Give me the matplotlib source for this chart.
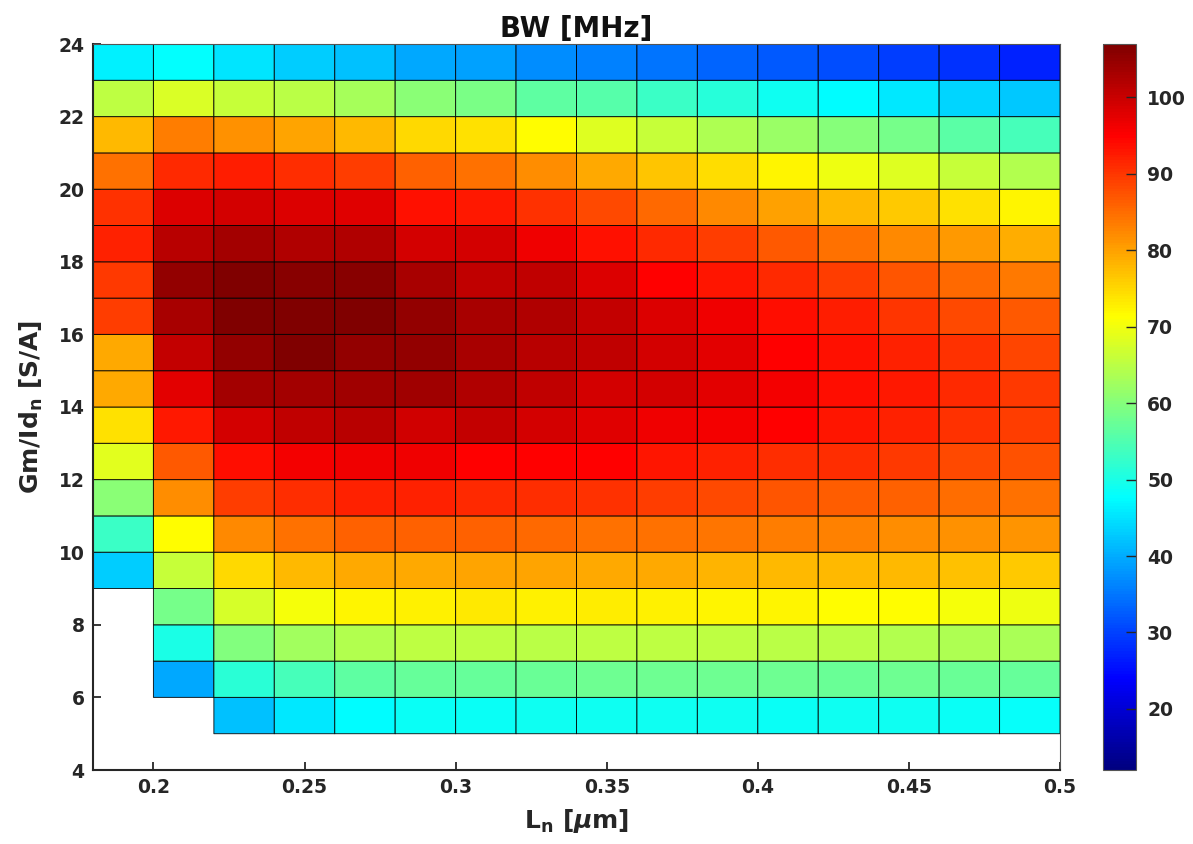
import numpy as np
import matplotlib.pyplot as plt
from matplotlib.colors import LinearSegmentedColormap
from matplotlib.ticker import FormatStrFormatter

nan = np.nan

# cell edges
L_n = [0.18, 0.20, 0.22, 0.24, 0.26, 0.28, 0.30, 0.32, 0.34,
       0.36, 0.38, 0.40, 0.42, 0.44, 0.46, 0.48, 0.50]
gm_id = [5, 6, 7, 8, 9, 10, 11, 12, 13, 14, 15, 16, 17, 18, 19, 20, 21, 22, 23, 24]

# BW [MHz], one list per Gm/Id row (top row first)
bw_23 = [46.5, 47.8, 45.3, 42.9, 41.7, 39.7, 38.8, 37.0, 35.8, 35.0, 33.4, 32.3, 31.0, 29.8, 28.6, 27.0]
bw_22 = [65.4, 67.8, 66.1, 64.9, 63.0, 60.6, 59.0, 56.4, 55.5, 53.0, 51.2, 49.0, 47.6, 45.7, 43.8, 42.5]
bw_21 = [77.8, 83.3, 81.4, 79.7, 78.0, 75.0, 74.3, 71.4, 68.2, 65.9, 63.7, 61.9, 60.0, 58.5, 56.1, 54.0]
bw_20 = [84.7, 91.2, 92.2, 90.7, 89.2, 86.2, 84.7, 82.1, 79.3, 76.9, 74.5, 72.3, 69.8, 68.2, 65.9, 64.0]
bw_19 = [90.4, 98.2, 99.1, 98.2, 97.9, 93.5, 92.8, 90.4, 88.3, 85.3, 82.5, 80.2, 78.0, 76.2, 74.3, 72.3]
bw_18 = [92.0, 101.7, 103.6, 102.5, 102.5, 99.1, 99.1, 96.5, 93.5, 91.2, 89.2, 86.9, 84.7, 82.5, 80.7, 78.8]
bw_17 = [89.9, 104.9, 107.0, 106.2, 106.2, 103.0, 101.0, 101.0, 98.2, 95.1, 93.1, 91.2, 89.2, 87.2, 85.3, 83.8]
bw_16 = [89.2, 103.2, 107.0, 107.0, 107.0, 104.9, 103.0, 102.5, 100.6, 98.2, 96.5, 94.0, 92.2, 90.2, 88.3, 86.9]
bw_15 = [79.3, 100.6, 104.9, 107.0, 104.9, 104.9, 103.0, 101.7, 101.0, 99.1, 97.5, 95.1, 93.6, 92.0, 90.4, 88.8]
bw_14 = [79.3, 97.5, 103.4, 103.4, 103.9, 103.9, 102.5, 101.0, 99.1, 99.1, 97.5, 96.0, 94.0, 92.8, 91.2, 89.9]
bw_13 = [74.3, 92.8, 99.1, 101.0, 101.7, 99.5, 100.6, 99.1, 97.9, 96.5, 96.0, 95.1, 93.1, 92.0, 90.4, 89.2]
bw_12 = [68.5, 86.9, 94.0, 96.0, 96.5, 96.5, 95.1, 95.0, 95.1, 93.1, 92.0, 90.7, 90.7, 89.9, 88.3, 87.6]
bw_11 = [60.6, 82.1, 89.2, 90.7, 92.0, 92.0, 91.2, 90.7, 90.4, 89.2, 88.3, 87.2, 86.3, 85.9, 84.9, 84.5]
bw_10 = [53.0, 71.4, 82.5, 84.5, 85.9, 86.2, 85.9, 85.3, 84.7, 84.5, 84.0, 83.3, 82.9, 82.1, 81.7, 81.1]
bw_9 = [42.9, 66.1, 75.0, 78.0, 79.3, 79.3, 79.7, 79.7, 79.3, 79.3, 78.3, 78.0, 77.7, 77.7, 77.2, 76.5]
bw_8 = [nan, 58.5, 67.4, 70.4, 72.3, 72.8, 73.6, 72.8, 73.0, 72.8, 72.3, 72.3, 71.4, 71.4, 70.4, 69.8]
bw_7 = [nan, 50.0, 59.5, 62.5, 64.2, 65.4, 65.4, 64.8, 65.4, 65.2, 65.2, 65.0, 64.8, 64.2, 63.9, 63.5]
bw_6 = [nan, 39.7, 51.5, 54.0, 56.5, 57.1, 57.1, 57.5, 58.0, 58.0, 58.0, 58.0, 57.5, 57.8, 57.5, 57.1]
bw_5 = [nan, nan, 41.8, 45.7, 47.6, 48.6, 48.6, 49.0, 49.0, 49.1, 49.0, 48.6, 48.8, 48.8, 48.6, 48.1]

bw = np.array([bw_5, bw_6, bw_7, bw_8, bw_9, bw_10, bw_11, bw_12, bw_13, bw_14,
               bw_15, bw_16, bw_17, bw_18, bw_19, bw_20, bw_21, bw_22, bw_23])

# MATLAB style jet
jet_segs = {
    'red':   [(0, 0, 0), (0.375, 0, 0), (0.625, 1, 1), (0.875, 1, 1), (1, 0.5, 0.5)],
    'green': [(0, 0, 0), (0.125, 0, 0), (0.375, 1, 1), (0.625, 1, 1), (0.875, 0, 0), (1, 0, 0)],
    'blue':  [(0, 0.5, 0.5), (0.125, 1, 1), (0.375, 1, 1), (0.625, 0, 0), (1, 0, 0)],
}
jet = LinearSegmentedColormap('mjet', jet_segs, N=256)

plt.rcParams['font.family'] = 'DejaVu Sans'
plt.rcParams['font.weight'] = 'bold'
plt.rcParams['axes.labelweight'] = 'bold'
plt.rcParams['axes.titleweight'] = 'bold'

W, H = 1193, 844
fig = plt.figure(figsize=(W / 100, H / 100), dpi=100)
ax = fig.add_axes([93 / W, 1 - 770 / H, (1060 - 93) / W, (770 - 44) / H])
cax = fig.add_axes([1103 / W, 1 - 770 / H, 33 / W, (770 - 44) / H])

pc = ax.pcolor(L_n, gm_id, np.ma.masked_invalid(bw), cmap=jet, vmin=12, vmax=107,
               edgecolors=(0, 0, 0, 0.85), linewidth=0.7)

ax.set_xlim(0.18, 0.5)
ax.set_ylim(4, 24)
ax.set_xticks([0.2, 0.25, 0.3, 0.35, 0.4, 0.45, 0.5])
ax.set_yticks(range(4, 25, 2))
ax.xaxis.set_major_formatter(FormatStrFormatter('%g'))
ax.set_axisbelow(True)
ax.tick_params(direction='in', length=6, width=1.3, labelsize=13.5,
               colors='#262626', pad=6)
for s in ['left', 'bottom']:
    ax.spines[s].set_linewidth(1.5)
    ax.spines[s].set_color('#262626')
for s in ['top', 'right']:
    ax.spines[s].set_linewidth(0.8)
    ax.spines[s].set_color('#555555')

ax.set_title('BW [MHz]', fontsize=20, color='#111111', pad=5)
ax.set_xlabel(r'L$_\mathbf{n}$ [$\mu$m]', fontsize=18, color='#262626', labelpad=7)
ax.set_ylabel(r'Gm/Id$_\mathbf{n}$ [S/A]', fontsize=18, color='#262626', labelpad=10)

cb = fig.colorbar(pc, cax=cax)
cb.set_ticks(range(20, 101, 10))
cax.tick_params(direction='in', length=7, width=1, labelsize=13.5, colors='#262626', pad=8)
cb.outline.set_linewidth(0.8)
cb.outline.set_edgecolor('#555555')

fig.savefig('out.png', dpi=100)
